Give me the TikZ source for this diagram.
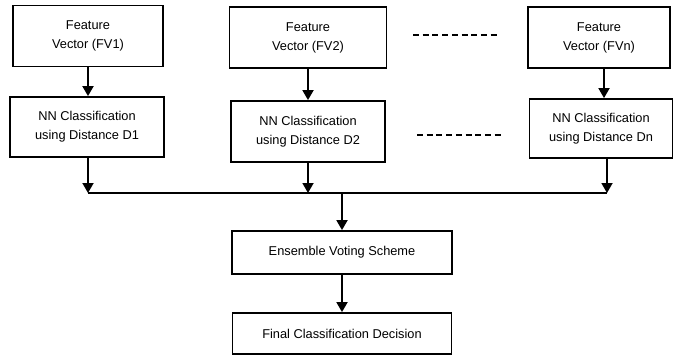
\documentclass[tikz,border=0pt]{standalone}
\usepackage{fontspec}
\setmainfont{Liberation Sans}
\usetikzlibrary{arrows.meta}

\begin{document}
\begin{tikzpicture}[x=1pt, y=-1pt, line width=1.8pt,
    box/.style={draw, rectangle, line width=1.8pt, align=center,
        font=\fontsize{12.8}{19}\selectfont, inner sep=0pt},
    arr/.style={-{Triangle[length=10pt,width=11pt]}}]
\useasboundingbox (0,0) rectangle (674,356);

% Feature vectors
\node[box, minimum width=150, minimum height=61] (fv1) at (88,36) {Feature\\Vector (FV1)};
\node[box, minimum width=157, minimum height=61] (fv2) at (308,37.5) {Feature\\Vector (FV2)};
\node[box, minimum width=142, minimum height=61] (fvn) at (599,37.5) {Feature\\Vector (FVn)};

% Classifiers
\node[box, minimum width=154, minimum height=60] (nn1) at (87,127) {NN Classification\\using Distance D1};
\node[box, minimum width=154, minimum height=61] (nn2) at (308,131.5) {NN Classification\\using Distance D2};
\node[box, minimum width=143, minimum height=59] (nnn) at (601,128.5) {NN Classification\\using Distance Dn};

% Voting
\node[box, minimum width=220, minimum height=43] (ens) at (342,252.5) {Ensemble Voting Scheme};
\node[box, minimum width=219, minimum height=41] (final) at (342,333.5) {Final Classification Decision};

\coordinate (bus) at (0,193);
\coordinate (d1a) at (413,35);
\coordinate (d1b) at (500,35);
\coordinate (d2a) at (417,135);
\coordinate (d2b) at (503,135);

\draw[arr] (fv1.south) -- (fv1.south |- nn1.north);
\draw[arr] (fv2.south) -- (fv2.south |- nn2.north);
\draw[arr] ([xshift=5pt]fvn.south) -- ([xshift=5pt]fvn.south |- nnn.north);

\draw[arr] ([xshift=1pt]nn1.south) -- ([xshift=1pt]nn1.south |- bus);
\draw[arr] (nn2.south) -- (nn2.south |- bus);
\draw[arr] ([xshift=6pt]nnn.south) -- ([xshift=6pt]nnn.south |- bus);
\draw ([xshift=1pt]nn1.south |- bus) -- ([xshift=6pt]nnn.south |- bus);

\draw[arr] (ens.north |- bus) -- (ens.north);
\draw[arr] (ens.south) -- (ens.south |- final.north);

% Dots between columns
\draw[dash pattern=on 6pt off 3.7pt] (d1a) -- (d1b);
\draw[dash pattern=on 6pt off 3.7pt] (d2a) -- (d2b);
\end{tikzpicture}
\end{document}
